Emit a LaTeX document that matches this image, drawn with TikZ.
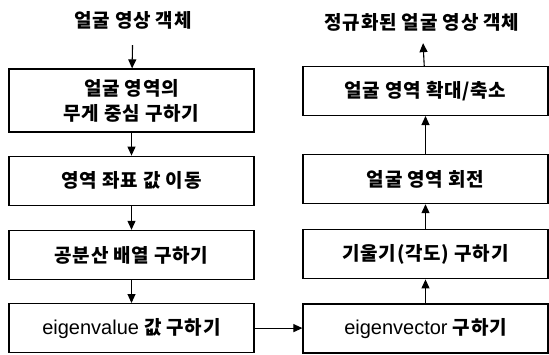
\documentclass[tikz,border=0pt]{standalone}
\usepackage{fontspec}
\setmainfont{Noto Sans CJK KR}[LetterSpace=4]
\newfontfamily\latfont{Liberation Sans}
\usetikzlibrary{positioning,arrows.meta}

\tikzset{
  stepbox/.style={draw, line width=1.2pt, minimum width=245pt, minimum height=49pt,
    align=center, font=\fontsize{19}{25}\selectfont\bfseries, inner sep=2pt},
  titletext/.style={font=\fontsize{19}{22}\selectfont\bfseries, inner sep=2pt},
  flow/.style={line width=1.1pt, -{Triangle[length=9pt,width=8pt]}}
}

\begin{document}
\begin{tikzpicture}[x=1pt, y=-1pt]
    \useasboundingbox (0,0) rectangle (549,354);

    % Left column, top to bottom
    \node[titletext]                           (input) at (133,20) {얼굴 영상 객체};
    \node[stepbox, minimum height=63pt]        (centre) at (131.5,100.5) {얼굴 영역의\\무게 중심 구하기};
    \node[stepbox, below=23pt of centre]       (shift) {영역 좌표 값 이동};
    \node[stepbox, below=24pt of shift]        (covar) {공분산 배열 구하기};
    \node[stepbox, below=23pt of covar]        (evalue) {{\latfont\mdseries\fontsize{20}{25}\selectfont eigenvalue} 값 구하기};

    % Right column, bottom to top
    \node[stepbox]                             (evector) at (425.5,328.5) {{\latfont\mdseries\fontsize{20}{25}\selectfont eigenvector} 구하기};
    \node[stepbox, above=24pt of evector]      (angle) {기울기(각도) 구하기};
    \node[stepbox, above=25pt of angle]        (rotate) {얼굴 영역 회전};
    \node[stepbox, above=38pt of rotate]       (scale) {얼굴 영역 확대/축소};
    \node[titletext]                           (output) at (422,22) {정규화된 얼굴 영상 객체};

    % Connect the nodes
    \draw[flow, shorten <=14pt] (input) -- (centre);
    \draw[flow] (centre) -- (shift);
    \draw[flow] (shift) -- (covar);
    \draw[flow] (covar) -- (evalue);
    \draw[flow] (evalue) -- (evalue -| evector.west);
    \draw[flow] (evector) -- (angle);
    \draw[flow] (angle) -- (rotate);
    \draw[flow] (rotate) -- (scale);
    \draw[flow, shorten >=10pt] (scale) -- (output);

\end{tikzpicture}
\end{document}
